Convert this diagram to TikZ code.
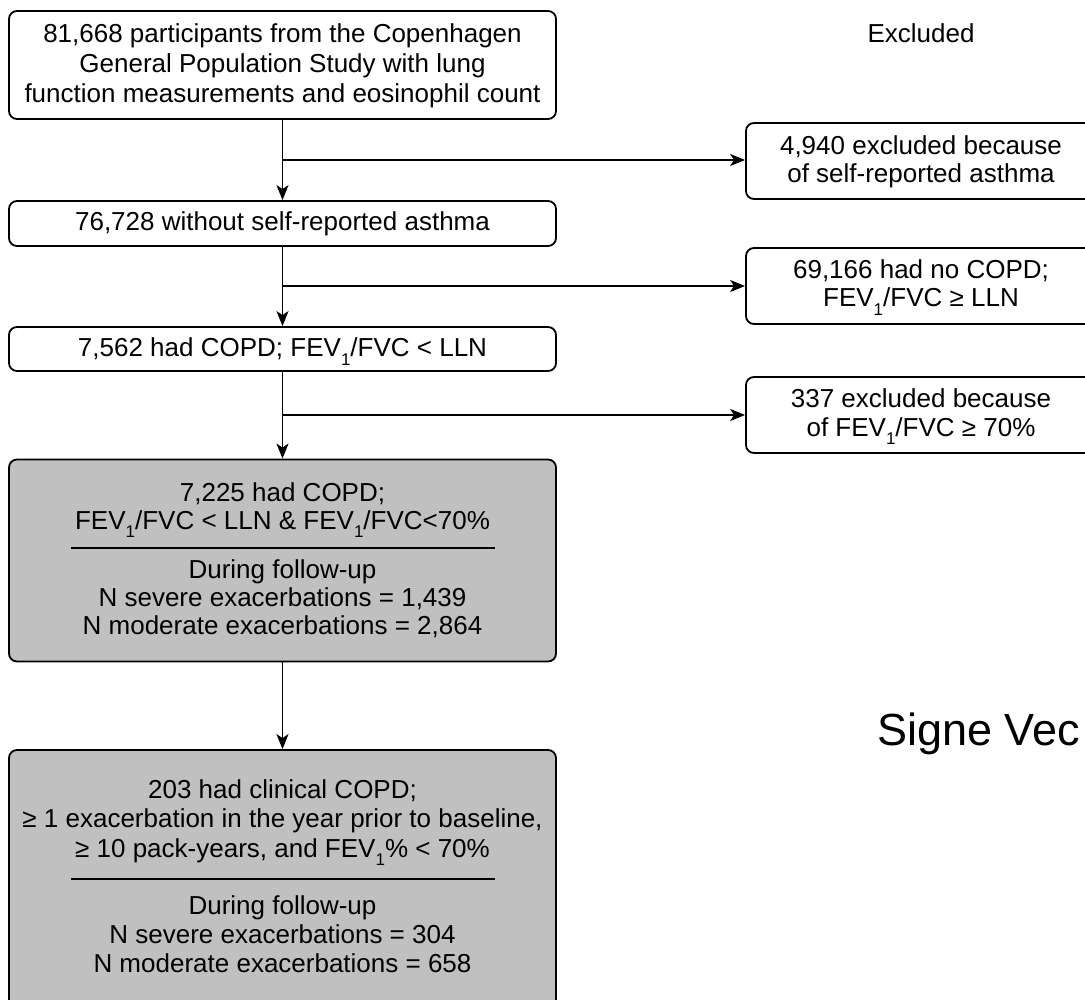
\documentclass[tikz,border=0pt]{standalone}
\usepackage{fontspec}
\setmainfont{Liberation Sans}
\usetikzlibrary{arrows.meta,calc}
\definecolor{boxgray}{RGB}{192,192,192}
\newcommand\mytxt[3]{\node[txt,anchor=base] (#1) at #2 {#3};}
\newcommand\sbone{\raisebox{-0.32em}{\fontsize{17}{17}\selectfont 1}}
\begin{document}
\begin{tikzpicture}[x=1pt,y=-1pt,
  box/.style={draw, line width=1.8pt, rounded corners=8pt, inner sep=0pt, minimum width=547pt},
  ebox/.style={draw, line width=1.8pt, rounded corners=8pt, inner sep=0pt, minimum width=350pt, minimum height=76pt},
  gbox/.style={box, fill=boxgray},
  txt/.style={inner sep=0pt, font=\fontsize{26}{30}\selectfont},
  arr/.style={line width=1.6pt, -{Stealth[length=15pt,width=12pt,inset=4pt]}},
  divline/.style={line width=1.6pt}]
\useasboundingbox (0,0) rectangle (1085,1000);
\fill[white] (0,0) rectangle (1085,1000);
\clip (0,0) rectangle (1085,1000);

% main column boxes
\node[box, minimum height=108pt] (n1) at (282.5,65) {};
\node[box, minimum height=45pt] (n2) at (282.5,223.5) {};
\node[box, minimum height=44pt] (n3) at (282.5,349) {};
\node[gbox, minimum height=202pt] (n4) at (282.5,560.5) {};
\node[gbox, minimum height=280pt] (n5) at (282.5,890) {};

% excluded boxes
\node[ebox] (e1) at (921,161) {};
\node[ebox] (e2) at (921,286) {};
\node[ebox] (e3) at (921,415) {};

% texts
\mytxt{hx}{(921,43)}{Excluded}
\mytxt{t1a}{(282.5,43)}{81,668 participants from the Copenhagen}
\mytxt{t1b}{(282.5,73)}{General Population Study with lung}
\mytxt{t1c}{(282.5,103)}{function measurements and eosinophil count}
\mytxt{t2}{(282.5,231)}{76,728 without self-reported asthma}
\mytxt{t3}{(282.5,357)}{7,562 had COPD; FEV\sbone/FVC < LLN}

\mytxt{t4a}{(282.5,501)}{7,225 had COPD;}
\mytxt{t4b}{(282.5,529)}{FEV\sbone/FVC < LLN \& FEV\sbone/FVC<70\%}
\mytxt{t4c}{(282.5,578)}{During follow-up}
\mytxt{t4d}{(282.5,606)}{N severe exacerbations = 1,439}
\mytxt{t4e}{(282.5,634)}{N moderate exacerbations = 2,864}

\mytxt{t5a}{(282.5,798)}{203 had clinical COPD;}
\mytxt{t5b}{(282.5,827)}{≥ 1 exacerbation in the year prior to baseline,}
\mytxt{t5c}{(282.5,857)}{≥ 10 pack-years, and FEV\sbone\% < 70\%}
\mytxt{t5d}{(282.5,914)}{During follow-up}
\mytxt{t5e}{(282.5,943)}{N severe exacerbations = 304}
\mytxt{t5f}{(282.5,972)}{N moderate exacerbations = 658}

\mytxt{e1a}{(921,155)}{4,940 excluded because}
\mytxt{e1b}{(921,183)}{of self-reported asthma}
\mytxt{e2a}{(921,279)}{69,166 had no COPD;}
\mytxt{e2b}{(921,307)}{FEV\sbone/FVC ≥ LLN}
\mytxt{e3a}{(921,408)}{337 excluded because}
\mytxt{e3b}{(921,436)}{of FEV\sbone/FVC ≥ 70\%}

\node[inner sep=0pt, anchor=base west, font=\fontsize{45}{50}\selectfont] (sig) at (877,745) {Signe Vec};

% dividers in gray boxes
\draw[divline] (71,548) -- (495,548);
\draw[divline] (71,879) -- (495,879);

% junctions
\coordinate (j1) at (282.5,160);
\coordinate (j2) at (282.5,286);
\coordinate (j3) at (282.5,415);

% connectors
\draw[arr] (n1) -- (n2);
\draw[arr] (n2) -- (n3);
\draw[arr] (n3) -- (n4);
\draw[arr] (n4) -- (n5);
\draw[arr] (j1) -- (j1 -| e1.west);
\draw[arr] (j2) -- (j2 -| e2.west);
\draw[arr] (j3) -- (j3 -| e3.west);
\end{tikzpicture}
\end{document}
